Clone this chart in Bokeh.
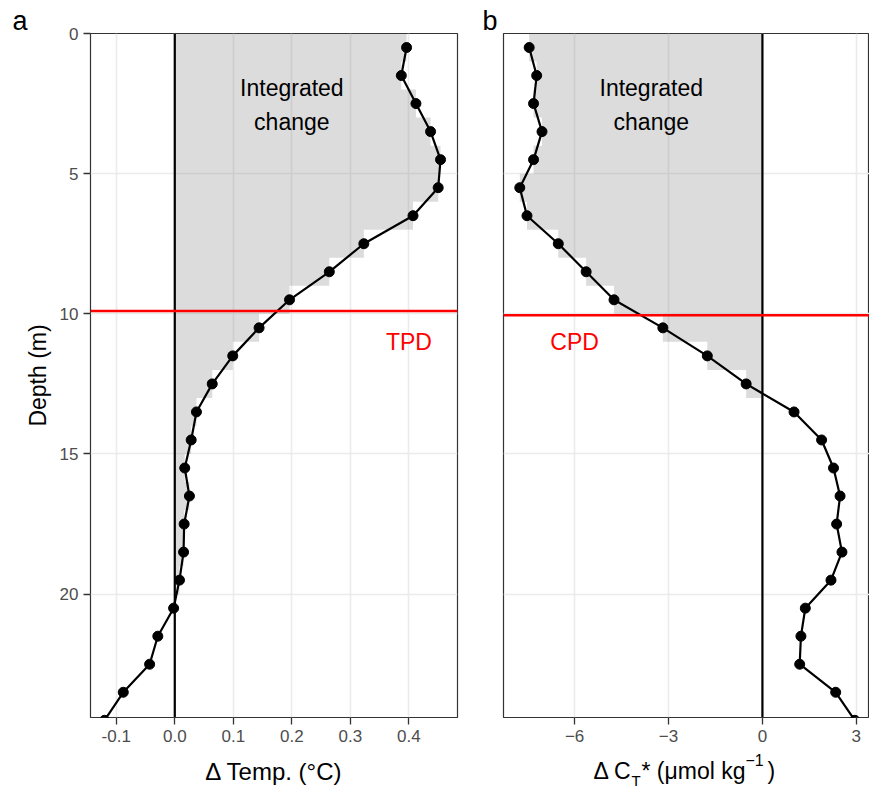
from bokeh.plotting import figure
from bokeh.models import Range1d, FixedTicker, PrintfTickFormatter, Span, Label, Title
from bokeh.layouts import row, column
from bokeh.embed import file_html
from bokeh.resources import INLINE

# ---------------- data ----------------
depth = [0.5, 1.5, 2.5, 3.5, 4.5, 5.5, 6.5, 7.5, 8.5, 9.5, 10.5, 11.5, 12.5,
         13.5, 14.5, 15.5, 16.5, 17.5, 18.5, 19.5, 20.5, 21.5, 22.5, 23.5, 24.5]
d_temp = [0.396, 0.387, 0.412, 0.437, 0.454, 0.450, 0.407, 0.323, 0.264, 0.196,
          0.144, 0.099, 0.064, 0.037, 0.028, 0.017, 0.025, 0.016, 0.015, 0.008,
          -0.002, -0.029, -0.043, -0.088, -0.120]
d_ct = [-7.45, -7.21, -7.31, -7.04, -7.31, -7.75, -7.52, -6.52, -5.63, -4.74,
        -3.18, -1.76, -0.52, 1.01, 1.89, 2.27, 2.48, 2.37, 2.54, 2.19,
        1.37, 1.23, 1.19, 2.34, 2.95]
tpd = 9.9
cpd = 10.05
temp_ticks = [-0.1, 0.0, 0.1, 0.2, 0.3, 0.4]
ct_ticks = [-6, -3, 0, 3]
depth_ticks = [0, 5, 10, 15, 20]

FONT = "Liberation Sans"
TICK_COL = "#4D4D4D"
GRID_COL = "#EBEBEB"


def step_patch(d, v, sign):
    xs = [0.0]
    ys = [d[0] - 0.5]
    for di, vi in zip(d, v):
        vv = vi if vi * sign > 0 else 0.0
        xs += [vv, vv]
        ys += [di - 0.5, di + 0.5]
    xs.append(0.0)
    ys.append(d[-1] + 0.5)
    return xs, ys


def style(p, xticks):
    p.background_fill_color = "white"
    p.border_fill_color = "white"
    p.outline_line_color = "#333333"
    p.outline_line_width = 1.2
    p.xaxis.ticker = FixedTicker(ticks=xticks)
    p.xgrid.ticker = FixedTicker(ticks=xticks)
    p.ygrid.ticker = FixedTicker(ticks=depth_ticks)
    for g in (p.xgrid, p.ygrid):
        g.grid_line_color = GRID_COL
        g.grid_line_width = 1.6
    for ax in p.axis:
        ax.axis_line_color = None
        ax.major_tick_line_color = "#333333"
        ax.major_tick_line_width = 1.3
        ax.major_tick_out = 7
        ax.major_tick_in = 0
        ax.minor_tick_out = 0
        ax.minor_tick_in = 0
        ax.major_label_text_font = FONT
        ax.major_label_text_font_size = "17px"
        ax.major_label_text_color = TICK_COL
        ax.major_label_standoff = 5


def draw_panel(p, vals, sign, line_at):
    xs, ys = step_patch(depth, vals, sign)
    p.patch(xs, ys, fill_color="#808080", fill_alpha=0.28, line_color=None)
    p.add_layout(Span(location=0, dimension="height", line_color="black", line_width=2.2))
    p.add_layout(Span(location=line_at, dimension="width", line_color="#FF0000", line_width=2.6))
    p.line(vals, depth, line_color="black", line_width=2.2)
    p.scatter(vals, depth, size=10, fill_color="black", line_color="black")


def lab(p, x, y, text, size="23px", color="black", align="center"):
    p.add_layout(Label(x=x, y=y, text=text,
                       text_font=FONT, text_font_size=size, text_color=color,
                       text_align=align, text_baseline="middle"))


def panel_letter(p, letter, offset):
    p.add_layout(Title(text=letter, align="left", offset=offset, standoff=-4,
                       text_font=FONT, text_font_size="27px", text_font_style="normal",
                       text_color="black"), "above")


# ---------------- panel a ----------------
p1 = figure(width=480, height=749, x_range=Range1d(-0.144, 0.483), y_range=Range1d(24.4, 0),
            output_backend="svg", toolbar_location=None, title=None,
            min_border_left=90, min_border_right=23, min_border_top=33, min_border_bottom=32)
style(p1, temp_ticks)
p1.xaxis.formatter = PrintfTickFormatter(format="%.1f")
p1.yaxis.ticker = FixedTicker(ticks=depth_ticks)
p1.yaxis.axis_label = "Depth (m)"
p1.yaxis.axis_label_text_font = FONT
p1.yaxis.axis_label_text_font_size = "23px"
p1.yaxis.axis_label_text_font_style = "normal"
p1.yaxis.axis_label_text_color = "black"
p1.yaxis.axis_label_standoff = 6
draw_panel(p1, d_temp, 1, tpd)
lab(p1, 0.2, 1.93, "Integrated")
lab(p1, 0.2, 3.15, "change")
lab(p1, 0.4, 11.02, "TPD", color="#FF0000")
panel_letter(p1, "a", -78)

# ---------------- panel b ----------------
p2 = figure(width=389, height=749, x_range=Range1d(-8.27, 3.42), y_range=Range1d(24.4, 0),
            output_backend="svg", toolbar_location=None, title=None,
            min_border_left=23, min_border_right=0, min_border_top=33, min_border_bottom=32)
style(p2, ct_ticks)
p2.yaxis.visible = False
draw_panel(p2, d_ct, -1, cpd)
lab(p2, -3.55, 1.93, "Integrated")
lab(p2, -3.55, 3.15, "change")
lab(p2, -6.0, 11.02, "CPD", color="#FF0000")
panel_letter(p2, "b", -21)

# ---------------- axis titles strip ----------------
foot = figure(width=869, height=40, x_range=Range1d(0, 869), y_range=Range1d(40, 0),
              output_backend="svg", toolbar_location=None, title=None,
              x_axis_location=None, y_axis_location=None,
              min_border_left=0, min_border_right=0, min_border_top=0, min_border_bottom=0)
foot.grid.visible = False
foot.outline_line_color = None
foot.background_fill_color = "white"
foot.border_fill_color = "white"
lab(foot, 273.5, 21.5, "Δ Temp. (°C)", size="24px")
lab(foot, 593, 21.5, "Δ C", align="left")
lab(foot, 631, 30.5, "T", size="15px", align="left")
lab(foot, 641, 21.5, "* (μmol kg", align="left")
lab(foot, 745, 10.8, "−1", size="16px", align="left")
lab(foot, 767, 21.5, ")", align="left")

layout = column(row(p1, p2), foot)
open("out.html", "w").write(file_html(layout, INLINE))
